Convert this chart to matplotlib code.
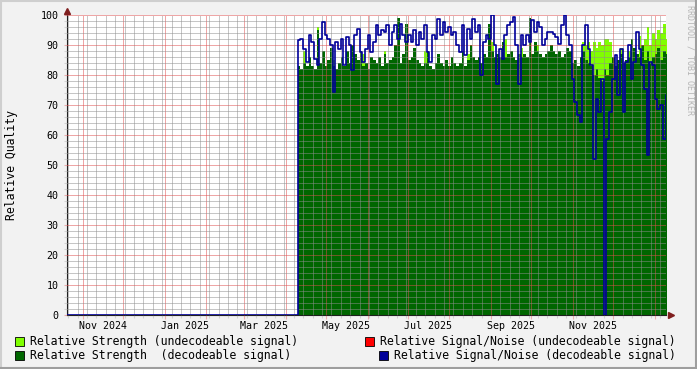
import numpy as np
import pandas as pd
import matplotlib
matplotlib.use('Agg')
import matplotlib.pyplot as plt
import matplotlib.dates as mdates
import matplotlib.transforms as mtransforms
from matplotlib.patches import Rectangle
from matplotlib.lines import Line2D
from matplotlib.ticker import MultipleLocator, NullFormatter

plt.rcParams['lines.scale_dashes'] = False

# time window of the graph and start of the recorded data (2 day steps)
view_start = pd.Timestamp('2024-10-20 02:00')
view_end = pd.Timestamp('2026-01-09 08:00')
data_start = pd.Timestamp('2025-04-10')

# relative signal/noise, decodeable signal
snr_dec = [91.6, 92.1, 88.8, 84.3, 93.2, 91.0, 85.4, 83.2, 92.1, 97.7,
           93.2, 92.1, 89.9, 74.3, 91.0, 88.8, 92.1, 83.2, 92.7, 89.9,
           81.6, 93.2, 95.4, 87.7, 84.3, 88.8, 93.2, 87.7, 91.0, 96.6,
           93.2, 94.9, 94.3, 96.6, 89.9, 94.3, 96.6, 92.1, 97.1, 93.2,
           91.0, 93.2, 91.0, 94.9, 89.9, 94.3,
           92.1, 96.6, 87.7, 84.3, 93.2, 92.1, 98.8, 93.2, 97.7, 94.3,
           96.0, 93.2, 94.3, 89.9, 87.7, 96.6, 86.6, 95.4, 92.1, 98.8,
           94.3, 96.6, 79.9, 91.0, 93.2, 92.1, 99.9, 89.9, 77.1, 88.8,
           85.4, 93.2, 96.6, 97.7, 99.3, 89.9, 77.1, 93.2, 89.9, 93.2,
           91.0, 98.2, 94.3, 97.7, 96.0, 89.9,
           92.1, 94.3, 94.3, 93.8, 92.7, 90.4, 96.6, 99.9, 93.2, 89.9,
           78.8, 71.0, 66.6, 64.3, 89.9, 96.6, 88.8, 83.2, 52.1, 72.1,
           67.7, 78.8, 0.0, 58.8, 67.7, 78.8, 86.6, 73.2, 88.8, 67.7,
           84.3, 89.9, 78.8, 84.3, 94.3, 88.8, 83.2, 75.4, 53.2, 84.3,
           83.2, 72.1, 68.8, 69.9, 58.8, 73.2]

# relative strength, decodeable signal
str_dec = [83, 82, 84, 83, 86, 83, 82, 95, 84, 88, 83, 85, 89, 83, 82, 84,
           86, 83, 88, 84, 90, 87, 85, 88, 83, 84, 82, 86, 85, 84, 86, 83,
           87, 84, 85, 86, 90, 99, 84, 87, 97, 85, 86, 89, 85, 84,
           83, 84, 88, 83, 82, 84, 87, 84, 83, 85, 83, 86, 84, 83, 84, 88,
           83, 85, 90, 86, 85, 86, 84, 87, 86, 97, 88, 86, 87, 86, 91, 86,
           87, 88, 86, 85, 87, 86, 87, 86, 99, 87, 91, 88, 87, 86,
           87, 88, 90, 88, 87, 88, 86, 87, 89, 88, 84, 85, 83, 86, 88, 85,
           84, 83, 80, 82, 79, 78, 82, 80, 84, 86, 83, 85, 87, 84, 85, 86,
           92, 89, 87, 86, 90, 85, 88, 84, 86, 87, 89, 85, 88, 87]

# relative strength, undecodeable signal
str_undec = [83, 82, 88, 83, 86, 83, 82, 96, 84, 88, 83, 85, 89, 85, 82, 84,
             86, 83, 88, 84, 90, 87, 85, 88, 87, 84, 82, 86, 85, 84, 86, 83,
             88, 84, 85, 86, 90, 99, 84, 87, 97, 85, 86, 89, 85, 84,
             83, 88, 88, 83, 82, 84, 87, 84, 83, 85, 83, 86, 84, 83, 84, 88,
             83, 87, 90, 86, 85, 86, 84, 87, 86, 97, 91, 86, 87, 86, 91, 92,
             87, 88, 86, 85, 87, 89, 87, 86, 99, 87, 91, 90, 87, 86,
             87, 88, 90, 88, 87, 88, 86, 87, 89, 88, 84, 85, 83, 86, 91, 90,
             91, 88, 91, 89, 91, 90, 92, 92, 91, 86, 83, 85, 89, 84, 85, 88,
             92, 89, 87, 93, 90, 92, 96, 90, 94, 92, 95, 94, 97, 92]

legend_labels = ['Relative Strength (undecodeable signal)',
                 'Relative Signal/Noise (undecodeable signal)',
                 'Relative Strength  (decodeable signal)',
                 'Relative Signal/Noise (decodeable signal)']
legend_colors = ['#80ff00', '#ff0000', '#006600', '#000099']

W, H = 697, 369
mono = ['DejaVu Sans Mono']
grid_col = (0.56, 0.56, 0.56, 0.32)
mgrid_col = (0.87, 0.31, 0.31, 0.4)
arrow_col = '#801f1f'
dot = (0, (0.72, 0.72))   # 1 px on, 1 px off

fig = plt.figure(figsize=(W / 100, H / 100), dpi=100, facecolor='#f2f2f2')
ax = fig.add_axes([67 / W, 1 - 315 / H, (666 - 67) / W, 300 / H])
ax.set_facecolor('white')

dates = pd.date_range(data_start, periods=len(snr_dec) + 1, freq='2D')
sd = np.append(str_dec, str_dec[-1])
su = np.append(str_undec, str_undec[-1])
ax.fill_between(dates, 0, su, step='post', color=legend_colors[0], lw=0)
ax.fill_between(dates, 0, sd, step='post', color=legend_colors[2], lw=0)

# before data starts the SNR line sits at zero
bx = [view_start] + list(dates)
by = [0.0] + list(snr_dec) + [snr_dec[-1]]
ax.step(bx, by, where='post', color=legend_colors[3], lw=1.2, zorder=4)

ax.set_xlim(view_start, view_end)
ax.set_ylim(0, 100)

# dotted grid on top of the data, rrdtool style
ax.set_axisbelow(False)
ax.xaxis.set_major_locator(mdates.MonthLocator())
ax.xaxis.set_minor_locator(mdates.WeekdayLocator(byweekday=mdates.MO))
ax.xaxis.set_major_formatter(NullFormatter())
ax.yaxis.set_major_locator(MultipleLocator(10))
ax.yaxis.set_minor_locator(MultipleLocator(2))
ax.grid(which='minor', color=grid_col, lw=0.72, ls=dot, zorder=5)
ax.grid(which='major', color=mgrid_col, lw=0.72, ls=dot, zorder=5)
ax.tick_params(which='major', axis='x', length=3, color=mgrid_col, width=0.8)
ax.tick_params(which='minor', axis='x', length=2, color=grid_col, width=0.8)
ax.tick_params(which='major', axis='y', length=2, color=mgrid_col, width=0.8,
               labelsize=7.2, pad=4)
ax.tick_params(which='minor', axis='y', length=2, color=grid_col, width=0.8)
for lab in ax.get_yticklabels():
    lab.set_family(mono)

for s in ['top', 'right']:
    ax.spines[s].set_visible(False)
ax.spines['left'].set_color('#1f1f1f')
ax.spines['bottom'].set_color('#1f1f1f')
ax.spines['left'].set_linewidth(0.8)
ax.spines['bottom'].set_linewidth(0.8)

# arrows at the end of axes
ax.plot([0], [1.015], marker='^', ms=4.5, color=arrow_col, transform=ax.transAxes,
        clip_on=False, zorder=6)
ax.plot([0, 0], [1, 1.01], color='#1f1f1f', lw=0.8, transform=ax.transAxes, clip_on=False)
ax.plot([1.008], [0], marker='>', ms=4.5, color=arrow_col, transform=ax.transAxes,
        clip_on=False, zorder=6)

# month labels, centred in the labelled month
trans = mtransforms.blended_transform_factory(ax.transData, ax.transAxes)
for m in pd.date_range('2024-11-01', '2025-11-01', freq='2MS'):
    mid = m + pd.Timedelta(days=15)
    ax.text(mid, -0.02, m.strftime('%b %Y'), transform=trans, ha='center', va='top',
            fontsize=7.2, family=mono)

fig.text(12 / W, 1 - 165 / H, 'Relative Quality', rotation=90, ha='center', va='center',
         fontsize=8.3, family=mono)
fig.text(690 / W, 1 - 60 / H, 'RRDTOOL / TOBI OETIKER', rotation=270, ha='center',
         va='center', fontsize=6, family=mono, color='#b5b5b5')

# legend
rows = [(341, 15, 30), (341, 365, 380), (355, 15, 30), (355, 379, 394)]
for (y, bxp, tx), lab, col in zip(rows, legend_labels, legend_colors):
    fig.patches.append(Rectangle((bxp / W, 1 - (y + 4.5) / H), 9 / W, 9 / H,
                                 transform=fig.transFigure, facecolor=col,
                                 edgecolor='black', lw=0.6))
    fig.text(tx / W, 1 - y / H, lab, ha='left', va='center', fontsize=8.3, family=mono)

# 3d frame of the image
fig.add_artist(Line2D([0, 1], [1 - 1 / H, 1 - 1 / H], transform=fig.transFigure,
                      color='#cfcfcf', lw=1.5))
fig.add_artist(Line2D([1 / W, 1 / W], [0, 1], transform=fig.transFigure,
                      color='#cfcfcf', lw=1.5))
fig.add_artist(Line2D([0, 1], [1 / H, 1 / H], transform=fig.transFigure,
                      color='#9e9e9e', lw=1.5))
fig.add_artist(Line2D([1 - 1 / W, 1 - 1 / W], [0, 1], transform=fig.transFigure,
                      color='#9e9e9e', lw=1.5))

fig.savefig('out.png', dpi=100, facecolor=fig.get_facecolor())
